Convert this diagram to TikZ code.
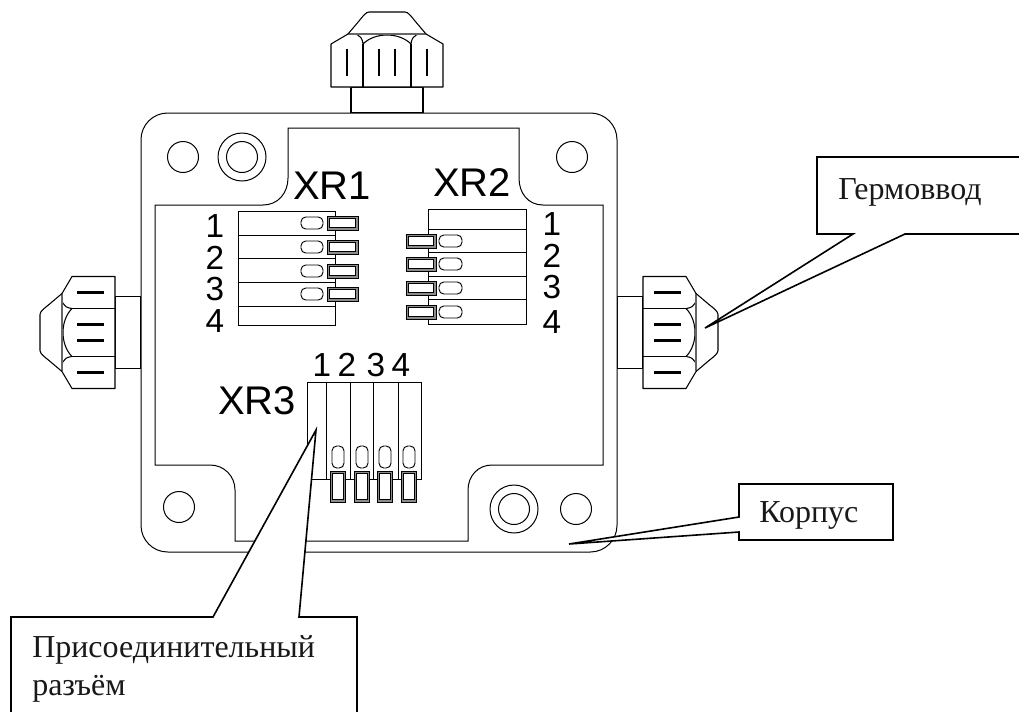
\documentclass[tikz,border=0pt]{standalone}
\usepackage{fontspec}
\setmainfont{Liberation Serif}
\setsansfont{Liberation Sans}
\newcommand{\glandshape}{%
  \draw[glandline] (0,-36) rectangle (26,36);
  \draw[glandline,fill=white] (26,-56) -- (69,-56) -- (79,-39) .. controls (80,-32) and (79,-25) .. (69,-24)
     .. controls (81,-12) and (81,12) .. (69,24) .. controls (79,25) and (80,32) .. (79,39)
     -- (69,56) -- (26,56) -- cycle;
  \draw[glandline] (26,-24) -- (69,-24) (26,24) -- (69,24);
  \draw[glandline,draw=black!60,line width=1.1pt] (79,-39) -- (79,39);
  \draw[glandline] (79,-39) -- (92,-28) .. controls (97,-24) and (101,-21) .. (101,-18) -- (101,18)
     .. controls (101,21) and (97,24) .. (92,28) -- (79,39);
  \draw[glandbar] (37,-40) -- (64,-40) (37,-8) -- (64,-8) (37,8) -- (64,8) (37,40) -- (64,40);
}
\newcommand{\pinshape}[4]{%
  \draw[pinouter] (#1,#2) rectangle (#3,#4);
  \draw[pininner] ({#1+2.2},{#2+2.2}) rectangle ({#3-2.2},{#4-2.2});
}
\tikzset{
  x=0.75pt,y=-0.75pt,
  thinline/.style={line width=0.75pt,draw=black},
  glandline/.style={line width=0.8pt,draw=black,line join=round},
  glandbar/.style={line width=1.9pt,draw=black},
  pinouter/.style={line width=0.6pt,draw=black,fill=black!45},
  pininner/.style={line width=0.5pt,draw=black,fill=white},
  slotshape/.style={line width=0.7pt,draw=black,rounded corners=3.6pt},
  callout/.style={line width=1.2pt,draw=black,fill=white,line join=miter},
  bigsf/.style={font=\sffamily\fontsize{30}{30}\selectfont,anchor=base west,inner sep=0pt},
  digit/.style={font=\sffamily\fontsize{25}{25}\selectfont,anchor=base,inner sep=0pt},
  calltext/.style={font=\fontsize{24}{24}\selectfont,anchor=base west,inner sep=0pt,text=black!90},
}
\begin{document}
\begin{tikzpicture}
\useasboundingbox (0,0) rectangle (1019,711);
\clip (0,0) rectangle (1019,711);
\fill[white] (0,0) rectangle (1019,711);
% glands
\begin{scope}[shift={(617,332.5)}]\glandshape\end{scope}
\begin{scope}[shift={(141,332.5)},xscale=-1]\glandshape\end{scope}
\begin{scope}[shift={(387,113)},rotate=90]\glandshape\end{scope}
% housing
\draw[thinline,fill=white,rounded corners=20pt] (141,113) rectangle (617,552);
\draw[thinline] (288,128) -- (519,128) -- (519,178) .. controls (519,193) and (528,205) .. (543,205)
   -- (603,205) -- (603,465) -- (492,465) .. controls (478,465) and (468,476) .. (468,490) -- (468,541)
   -- (235,541) -- (235,490) .. controls (235,476) and (224,465) .. (210,465) -- (155,465) -- (155,205)
   -- (263,205) .. controls (278,205) and (288,193) .. (288,178) -- cycle;
% holes
\draw[thinline] (183,157) circle[radius=15.5] (242,157) circle[radius=24] (242,157) circle[radius=15.5]
   (572,157) circle[radius=15.5] (179,507) circle[radius=15.5]
   (514,509) circle[radius=24] (514,509) circle[radius=15.5] (576,509) circle[radius=15.5];
% XR1
\draw[thinline] (238,211) rectangle (335,325);
\foreach \yy in {235,258,282,306} \draw[thinline] (238,\yy) -- (335,\yy);
\foreach \yy in {223,247,271,294} {
  \draw[slotshape,fill=white] (301,{\yy-6}) rectangle (323,{\yy+6});
  \pinshape{327}{\yy-7}{358}{\yy+7}
}
% XR2
\draw[thinline] (428,209) rectangle (526,324);
\foreach \yy in {229,252,276,299} \draw[thinline] (428,\yy) -- (526,\yy);
\foreach \yy in {241,264,288,312} {
  \draw[slotshape,fill=white] (439,{\yy-6}) rectangle (462,{\yy+6});
  \pinshape{406}{\yy-7}{436}{\yy+7}
}
% XR3
\draw[thinline] (307,382) rectangle (421,479);
\foreach \xx in {326,350,373,398} \draw[thinline] (\xx,382) -- (\xx,479);
\foreach \xx in {338,362,385,409} {
  \draw[slotshape,fill=white] ({\xx-6},446) rectangle ({\xx+6},468);
  \pinshape{\xx-7.5}{471}{\xx+7.5}{502}
}
% labels
\node[bigsf] (xr1) at (293,199) {XR1};
\node[bigsf] (xr2) at (433,196) {XR2};
\node[bigsf] (xr3) at (218,414) {XR3};
\node[digit] (a1) at (215,237) {1};
\node[digit] (a2) at (215,269) {2};
\node[digit] (a3) at (215,300) {3};
\node[digit] (a4) at (215,332) {4};
\node[digit] (b1) at (552,235) {1};
\node[digit] (b2) at (552,267) {2};
\node[digit] (b3) at (552,298) {3};
\node[digit] (b4) at (552,333) {4};
\node[digit] (c1) at (322,376) {1};
\node[digit] (c2) at (347,376) {2};
\node[digit] (c3) at (376,376) {3};
\node[digit] (c4) at (401,376) {4};
% callouts
\draw[callout] (817,157) -- (1030,157) -- (1030,234) -- (905,234) -- (705,328) -- (853,234) -- (817,234) -- cycle;
\draw[callout] (739,484) -- (893,484) -- (893,540) -- (739,540) -- (739,532) -- (569,544) -- (739,517) -- cycle;
\draw[callout] (11,617) -- (213,617) -- (316,430) -- (299,617) -- (357,617) -- (357,725) -- (11,725) -- cycle;
\node[calltext] (germ) at (838,199) {Гермоввод};
\node[calltext] (korp) at (759,522) {Корпус};
\node[calltext] (pris) at (32,657) {Присоединительный};
\node[calltext] (razm) at (32,695) {разъём};
\end{tikzpicture}
\end{document}
